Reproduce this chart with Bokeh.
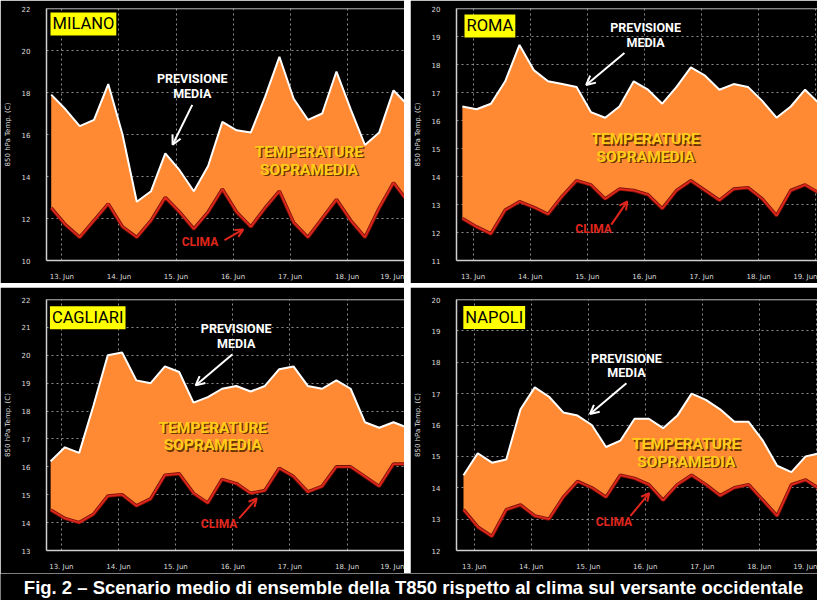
from bokeh.plotting import figure
from bokeh.layouts import column, row
from bokeh.models import FixedTicker, Span, Label, Arrow, OpenHead
from bokeh.core.properties import value
from bokeh.embed import file_html
from bokeh.resources import INLINE

# ---------------- data ----------------
# 6-hourly time steps (fractional day of June)
times = [12.8125 + 0.25 * i for i in range(26)]

milano_previsione = [17.9, 17.2, 16.4, 16.7, 18.4, 16.0, 12.8, 13.3, 15.1, 14.3, 13.3, 14.5, 16.6,
                     16.2, 16.1, 17.8, 19.7, 17.7, 16.7, 17.0, 19.0, 17.2, 15.5, 16.1, 18.1, 17.4]
milano_clima = [12.5, 11.7, 11.1, 11.9, 12.7, 11.6, 11.1, 11.9, 13.0, 12.3, 11.5, 12.3, 13.4,
                12.3, 11.6, 12.5, 13.3, 11.8, 11.1, 12.0, 12.9, 11.9, 11.1, 12.5, 13.7, 12.8]

roma_previsione = [16.5, 16.4, 16.6, 17.4, 18.7, 17.8, 17.4, 17.3, 17.2, 16.3, 16.1, 16.5, 17.4,
                   17.1, 16.6, 17.2, 17.9, 17.6, 17.1, 17.3, 17.2, 16.7, 16.1, 16.5, 17.1, 16.6]
roma_clima = [12.5, 12.2, 11.95, 12.8, 13.1, 12.9, 12.65, 13.3, 13.85, 13.7, 13.2, 13.55, 13.5,
              13.35, 12.85, 13.5, 13.85, 13.5, 13.15, 13.55, 13.6, 13.2, 12.6, 13.5, 13.7, 13.4]

cagliari_previsione = [16.2, 16.7, 16.5, 18.2, 20.0, 20.1, 19.1, 19.0, 19.6, 19.4, 18.3, 18.5, 18.8,
                       18.9, 18.7, 18.9, 19.5, 19.6, 18.9, 18.8, 19.1, 18.8, 17.6, 17.4, 17.6, 17.4]
cagliari_clima = [14.45, 14.15, 14.0, 14.3, 14.95, 15.0, 14.6, 14.85, 15.7, 15.75, 15.05, 14.7, 15.55,
                  15.4, 15.05, 15.15, 15.95, 15.65, 15.1, 15.3, 16.0, 16.0, 15.65, 15.3, 16.1, 16.1]

napoli_previsione = [14.4, 15.1, 14.8, 14.9, 16.5, 17.2, 16.9, 16.4, 16.3, 16.0, 15.3, 15.5, 16.2,
                     16.2, 15.9, 16.3, 17.0, 16.8, 16.5, 16.1, 16.1, 15.5, 14.7, 14.5, 15.0, 15.1]
napoli_clima = [13.3, 12.75, 12.45, 13.3, 13.45, 13.1, 13.0, 13.7, 14.2, 14.0, 13.7, 14.4, 14.3,
                14.1, 13.6, 14.1, 14.4, 14.1, 13.75, 14.0, 14.1, 13.6, 13.1, 14.1, 14.25, 13.95]

day_ticks = [13, 14, 15, 16, 17, 18, 19]
day_labels = ["13. Jun", "14. Jun", "15. Jun", "16. Jun", "17. Jun", "18. Jun", "19. Jun"]

milano_yticks = [10, 12, 14, 16, 18, 20, 22]
roma_yticks = [11, 12, 13, 14, 15, 16, 17, 18, 19, 20]
cagliari_yticks = [13, 14, 15, 16, 17, 18, 19, 20, 21, 22]
napoli_yticks = [12, 13, 14, 15, 16, 17, 18, 19, 20]

y_axis_label = "850 hPa Temp. (C)"
txt_previsione = ["PREVISIONE", "MEDIA"]
txt_sopramedia = ["TEMPERATURE", "SOPRAMEDIA"]
txt_clima = "CLIMA"
caption = "Fig. 2 \u2013 Scenario medio di ensemble della T850 rispetto al clima sul versante occidentale"

# ---------------- styles ----------------
ORANGE = "#FF8A33"
RED = "#E0261C"
DARKRED = "#7A1208"
FRAME = "#CFCFCF"
GRID = "#8C8C8C"
GOLD = "#FFCC1A"
SHADOW = "#6B3500"
ANN_NAME = "Roboto"
ANN = value(ANN_NAME)
TICKFONT = "DejaVu Sans"


def panel(name, prev, clima, yticks, xr, yr, w, h, bl, bt, bb, ann):
    p = figure(width=w, height=h, x_range=xr, y_range=yr, output_backend="svg",
               toolbar_location=None, background_fill_color="black",
               border_fill_color="black", outline_line_color=None,
               min_border_left=bl, min_border_right=0, min_border_top=bt,
               min_border_bottom=bb)
    p.varea(x=times, y1=clima, y2=prev, fill_color=ORANGE)
    p.line(times, clima, line_color=DARKRED, line_width=3.5)
    p.line(times, clima, line_color=RED, line_width=1.8)
    p.line(times, prev, line_color="white", line_width=2)

    p.xaxis.ticker = FixedTicker(ticks=day_ticks)
    p.xaxis.major_label_overrides = dict(zip(day_ticks, day_labels))
    p.yaxis.ticker = FixedTicker(ticks=yticks)
    p.yaxis.axis_label = y_axis_label
    for ax in (p.xaxis, p.yaxis):
        ax.axis_line_color = FRAME
        ax.axis_line_width = 1.5
        ax.major_tick_line_color = None
        ax.minor_tick_line_color = None
        ax.major_label_text_color = "#DDDDDD"
        ax.major_label_text_font = TICKFONT
        ax.major_label_text_font_size = "7px"
    p.yaxis.major_label_standoff = 10
    p.xaxis.major_label_standoff = 6
    p.yaxis.axis_label_text_color = "#DDDDDD"
    p.yaxis.axis_label_text_font = TICKFONT
    p.yaxis.axis_label_text_font_size = "7px"
    p.yaxis.axis_label_text_font_style = "normal"
    p.yaxis.axis_label_standoff = 7
    for g in (p.xgrid, p.ygrid):
        g.grid_line_color = GRID
        g.grid_line_dash = "2 3"
        g.grid_line_width = 1
    p.add_layout(Span(location=yr[1], dimension="width", line_color=FRAME, line_width=1.5))

    # city label
    lx, ly = ann["label"]
    p.add_layout(Label(x=lx, y=ly, text=name, anchor="top_left", padding=2,
                       background_fill_color="#FFFF00", text_color="black",
                       text_font=ANN_NAME, text_font_size="16.5px"))
    # previsione media
    px_, py1, py2 = ann["prev"]
    p.text(x=[px_, px_], y=[py1, py2], text=txt_previsione, text_color="white",
           text_font=ANN, text_font_style="bold", text_font_size="12.5px",
           text_align="center", text_baseline="middle")
    x0, y0, x1, y1 = ann["arrow_prev"]
    p.add_layout(Arrow(end=OpenHead(size=9, line_color="white", line_width=2),
                       x_start=x0, y_start=y0, x_end=x1, y_end=y1,
                       line_color="white", line_width=2))
    # temperature sopramedia
    tx, ty1, ty2 = ann["temp"]
    for dx, dy, col in ((1.5, 1.5, SHADOW), (0, 0, GOLD)):
        p.text(x=[tx, tx], y=[ty1, ty2], text=txt_sopramedia, text_color=col,
               x_offset=dx, y_offset=dy,
               text_font=ANN, text_font_style="bold", text_font_size="15.5px",
               text_align="center", text_baseline="middle")
    # clima
    cx, cy = ann["clima"]
    p.text(x=[cx], y=[cy], text=[txt_clima], text_color=RED,
           text_font=ANN, text_font_style="bold", text_font_size="12px",
           text_align="center", text_baseline="middle")
    x0, y0, x1, y1 = ann["arrow_clima"]
    p.add_layout(Arrow(end=OpenHead(size=8, line_color=RED, line_width=2),
                       x_start=x0, y_start=y0, x_end=x1, y_end=y1,
                       line_color=RED, line_width=2))
    return p


p_milano = panel("MILANO", milano_previsione, milano_clima, milano_yticks,
                 (12.73, 19.005), (10, 22), 404, 283, 39, 8, 16,
                 dict(label=(12.80, 21.81), prev=(15.285, 18.66, 17.97),
                      arrow_prev=(15.285, 17.41, 14.94, 15.51), temp=(17.33, 15.19, 14.31),
                      clima=(15.42, 10.88), arrow_clima=(15.85, 10.97, 16.18, 11.48)))
p_roma = panel("ROMA", roma_previsione, roma_clima, roma_yticks,
               (12.71, 19.03), (11, 20), 407, 283, 39, 7, 16,
               dict(label=(12.85, 19.79), prev=(16.02, 19.31, 18.79),
                    arrow_prev=(15.65, 18.41, 14.98, 17.27), temp=(16.02, 15.33, 14.71),
                    clima=(15.11, 12.11), arrow_clima=(15.42, 12.28, 15.70, 13.11)))
p_cagliari = panel("CAGLIARI", cagliari_previsione, cagliari_clima, cagliari_yticks,
                   (12.74, 19.005), (13, 22), 404, 286, 36, 12, 14,
                   dict(label=(12.80, 21.76), prev=(16.06, 20.96, 20.44),
                        arrow_prev=(15.99, 20.03, 15.35, 18.92), temp=(15.65, 17.40, 16.78),
                        clima=(15.76, 13.94), arrow_clima=(16.11, 14.15, 16.42, 14.87)))
p_napoli = panel("NAPOLI", napoli_previsione, napoli_clima, napoli_yticks,
                 (12.69, 19.02), (12, 20), 407, 286, 40, 9, 14,
                 dict(label=(12.81, 19.79), prev=(15.67, 18.12, 17.66),
                      arrow_prev=(15.67, 17.33, 15.03, 16.35), temp=(16.72, 15.38, 14.83),
                      clima=(15.45, 12.92), arrow_clima=(15.74, 13.10, 16.07, 13.83)))

cap = figure(width=817, height=27, x_range=(0, 817), y_range=(0, 27), output_backend="svg",
             toolbar_location=None, background_fill_color="black", border_fill_color="black",
             outline_line_color=None, min_border=0)
cap.axis.visible = False
cap.grid.visible = False
cap.text(x=[413], y=[13], text=[caption], text_color="white",
         text_font=value("Liberation Sans"), text_font_style="bold", text_font_size="18.5px",
         text_align="center", text_baseline="middle")

layout = column(column(row(p_milano, p_roma, spacing=6), row(p_cagliari, p_napoli, spacing=6),
                       spacing=4), cap, spacing=0)

open("out.html", "w").write(file_html(layout, INLINE))
